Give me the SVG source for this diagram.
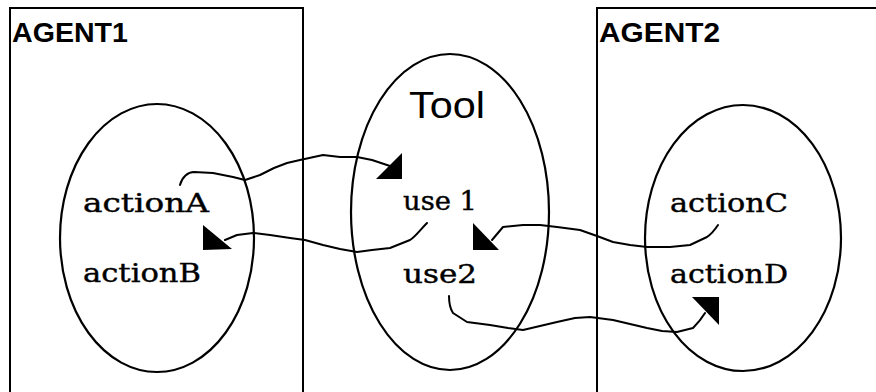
<svg xmlns="http://www.w3.org/2000/svg" width="876" height="392" viewBox="0 0 876 392">
<style>
.box{fill:none;stroke:#000;stroke-width:2}
.ell{fill:none;stroke:#000;stroke-width:2.2}
.title{font-family:"Liberation Sans",Arial,sans-serif;font-weight:bold;font-size:27px;fill:#000}
.act{font-family:"DejaVu Serif","Liberation Serif",serif;font-size:26px;fill:#000;stroke:#000;stroke-width:0.4}
.tool{font-family:"Liberation Sans",Arial,sans-serif;font-size:37px;fill:#000}
.conn{fill:none;stroke:#000;stroke-width:2;stroke-linejoin:round;stroke-linecap:round}
.head{fill:#000;stroke:none}
</style>
<rect width="876" height="392" fill="#fff"/>
<g id="agent1">
  <path class="box" d="M10,400 L10,8 L303,8 L303,400"/>
  <text class="title" x="12" y="42" textLength="116" lengthAdjust="spacingAndGlyphs">AGENT1</text>
  <ellipse class="ell" cx="157" cy="238" rx="97" ry="134"/>
  <text class="act" x="83" y="212" textLength="126" lengthAdjust="spacingAndGlyphs">actionA</text>
  <text class="act" x="83" y="282" textLength="118" lengthAdjust="spacingAndGlyphs">actionB</text>
</g>
<g id="tool">
  <ellipse class="ell" cx="450" cy="212" rx="99" ry="158"/>
  <text class="tool" x="409" y="118" textLength="76" lengthAdjust="spacingAndGlyphs">Tool</text>
  <text class="act" x="403" y="210" textLength="74" lengthAdjust="spacingAndGlyphs">use 1</text>
  <text class="act" x="403" y="283" textLength="74" lengthAdjust="spacingAndGlyphs">use2</text>
</g>
<g id="agent2">
  <path class="box" d="M597,400 L597,8 L880,8"/>
  <text class="title" x="599" y="42" textLength="121" lengthAdjust="spacingAndGlyphs">AGENT2</text>
  <ellipse class="ell" cx="743" cy="238" rx="98" ry="133"/>
  <text class="act" x="670" y="212" textLength="118" lengthAdjust="spacingAndGlyphs">actionC</text>
  <text class="act" x="670" y="283" textLength="118" lengthAdjust="spacingAndGlyphs">actionD</text>
</g>
<g id="connectors">
  <path class="conn" d="M180,185 C182,177 188,172 194,172 L213,173 L233,177 L245,180 L260,175 L274,168 L287,163 L300,160 L323,155 L340,157 L357,157 L372,160 L390,166"/>
  <polygon class="head" points="402,153 402,179 376,179"/>
  <path class="conn" d="M427,223 C420,230 415,237 410,240 L390,248 L372,250 L357,252 L340,249 L323,245 L305,240 L290,238 L270,235 L253,233 L237,235 L225,240"/>
  <polygon class="head" points="203,225 203,250 232,249"/>
  <path class="conn" d="M718,225 C714,231 710,235 707,237 L690,245 L670,247 L647,247 L630,245 L613,242 L597,236 L580,230 L557,227 L540,225 L523,225 L503,227 L492,240"/>
  <polygon class="head" points="473,223 473,250 499,250"/>
  <path class="conn" d="M449,296 C449,305 451,310 453,313 L467,322 L490,325 L508,328 L523,330 L540,326 L557,322 L575,318 L590,317 L613,320 L630,324 L647,328 L662,331 L677,332 L693,328 C699,322 702,318 705,313"/>
  <polygon class="head" points="692,297 719,297 719,325"/>
</g>
</svg>
